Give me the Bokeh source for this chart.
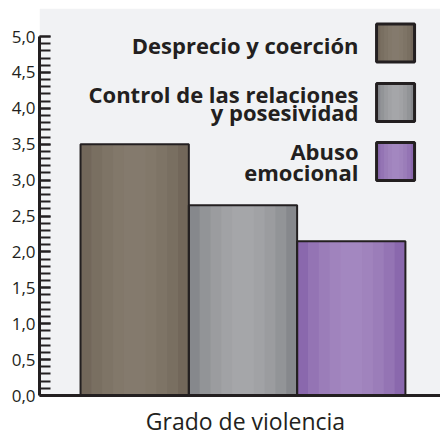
from bokeh.plotting import figure
from bokeh.models import Range1d, FixedTicker, BoxAnnotation, Span
from bokeh.core.properties import value
from bokeh.embed import file_html
from bokeh.resources import INLINE

# ---- data ----
categories = ["Desprecio y coerción", "Control de las relaciones y posesividad", "Abuso emocional"]
values = [3.5, 2.65, 2.15]
legend_lines = [["Desprecio y coerción"], ["Control de las relaciones", "y posesividad"], ["Abuso", "emocional"]]
tick_values = [0.0, 0.5, 1.0, 1.5, 2.0, 2.5, 3.0, 3.5, 4.0, 4.5, 5.0]
tick_labels = ["0,0", "0,5", "1,0", "1,5", "2,0", "2,5", "3,0", "3,5", "4,0", "4,5", "5,0"]
minor_tick_values = [round(i * 0.1, 1) for i in range(51)]
axis_title = "Grado de violencia"

# ---- styles ----
edge_colors = ["#72675a", "#86888c", "#8a68ad"]
light_colors = ["#8c8173", "#afb1b4", "#ad91c6"]
ink = "#231f20"
bg = "#f1f2f4"

xs = [i + 1 for i in range(len(values))]

p = figure(width=440, height=436, output_backend="svg", toolbar_location=None,
           x_range=Range1d(0.121, 3.824), y_range=Range1d(-0.571, 5.39),
           min_border_left=39, min_border_right=0, min_border_top=8, min_border_bottom=0)
p.background_fill_color = "white"
p.border_fill_color = "white"
p.outline_line_color = None
p.grid.visible = False
p.xaxis.visible = False

# grey plotting area above zero
p.add_layout(BoxAnnotation(bottom=0, fill_color=bg, fill_alpha=1.0, line_color=None, level="underlay"))

# bars with simulated gradient
p.vbar(x=xs, top=values, width=1.0, fill_color=edge_colors, line_color=None)
for frac in [0.8, 0.6, 0.4, 0.2]:
    p.vbar(x=xs, top=values, width=frac, fill_color=light_colors, fill_alpha=0.3, line_color=None)
p.vbar(x=xs, top=values, width=1.0, fill_color=None, line_color=ink, line_width=2)

# baseline (x axis line)
p.add_layout(Span(location=0, dimension="width", line_color=ink, line_width=3))

# custom legend (squares on the right of the text)
sq_x = 3.409
sq_w = 0.351
sq_h = 0.53
sq_ys = [4.91, 4.08, 3.259]
sq_xs = [sq_x] * len(categories)
p.rect(x=sq_xs, y=sq_ys, width=sq_w, height=sq_h, fill_color=edge_colors, line_color=None)
for frac in [0.8, 0.6, 0.4, 0.2]:
    p.rect(x=sq_xs, y=sq_ys, width=sq_w * frac, height=sq_h, fill_color=light_colors,
           fill_alpha=0.3, line_color=None)
p.rect(x=sq_xs, y=sq_ys, width=sq_w, height=sq_h, fill_color=None, line_color=ink, line_width=3)

text_lines = [l for lines in legend_lines for l in lines]
text_ys = [4.875, 4.206, 3.942, 3.412, 3.106]
p.text(x=[3.067] * len(text_lines), y=text_ys, text=text_lines, text_align="right",
       text_baseline="middle", text_font=value("Open Sans"), text_font_style="bold",
       text_font_size="22px", text_color=ink)

# axis title below the baseline
p.text(x=[2.023], y=[-0.35], text=[axis_title], text_align="center", text_baseline="middle",
       text_font=value("Open Sans"), text_font_size="23px", text_color=ink)

# y axis
yax = p.yaxis[0]
yax.bounds = (0, 5)
yax.ticker = FixedTicker(ticks=tick_values, minor_ticks=minor_tick_values)
yax.major_label_overrides = {v: l for v, l in zip(tick_values, tick_labels)}
yax.axis_line_width = 3
yax.axis_line_color = ink
yax.major_tick_in = 11
yax.major_tick_out = 0
yax.minor_tick_in = 11
yax.minor_tick_out = 0
yax.major_tick_line_width = 2
yax.minor_tick_line_width = 2
yax.major_tick_line_color = ink
yax.minor_tick_line_color = ink
yax.major_label_standoff = 4
yax.major_label_text_font = "Open Sans"
yax.major_label_text_font_size = "17px"
yax.major_label_text_color = ink

open("out.html", "w").write(file_html(p, INLINE))
